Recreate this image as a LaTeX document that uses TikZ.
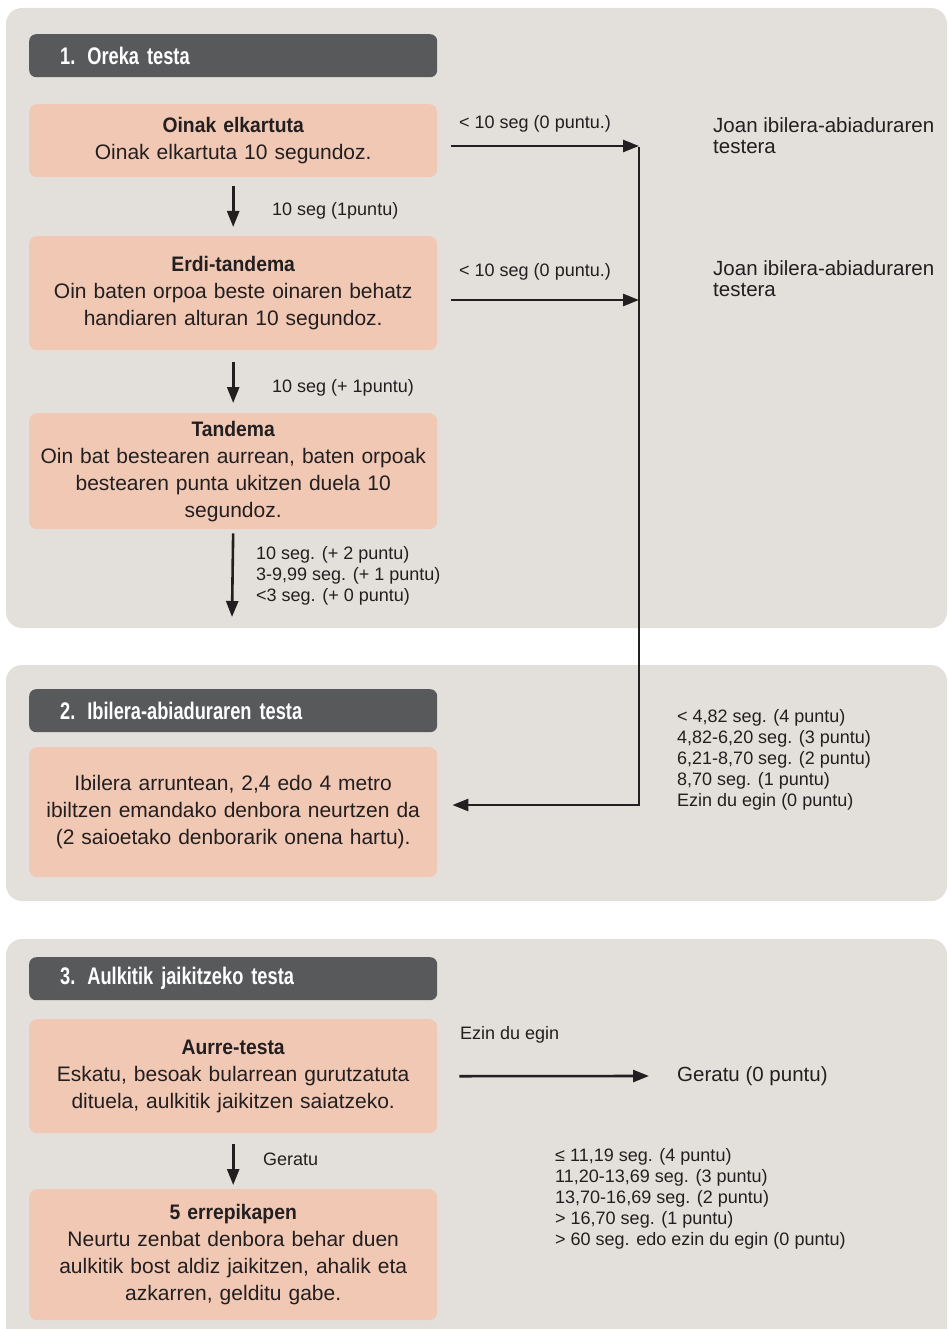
\documentclass[tikz,border=0pt]{standalone}
\usepackage{fontspec}
\setmainfont{Liberation Sans}
\newfontfamily\headfont{Liberation Sans}[FakeStretch=0.76]
\newfontfamily\titlefont{Liberation Sans}[FakeStretch=0.92]
\usetikzlibrary{arrows.meta}
\definecolor{panelbg}{HTML}{E3DFDA}
\definecolor{headgray}{HTML}{58595B}
\definecolor{peach}{HTML}{F0C8B4}
\definecolor{ink}{HTML}{231F20}
\tikzset{
  panel/.style={fill=panelbg, rounded corners=16pt},
  head/.style={fill=headgray, rounded corners=7pt, anchor=north west,
    text width=346pt, inner xsep=31pt, inner ysep=0pt, minimum height=43pt,
    align=left, text=white, font=\headfont\bfseries\fontsize{24}{28}\selectfont},
  stepbox/.style={fill=peach, rounded corners=8pt, anchor=north west,
    text width=400pt, inner xsep=4pt, inner ysep=0pt, align=center,
    text=ink, font=\fontsize{21}{27}\selectfont},
  lbl/.style={anchor=west, inner sep=0pt, text=ink, align=left,
    font=\fontsize{18}{21}\selectfont},
  note/.style={anchor=west, inner sep=0pt, text=ink, align=left,
    font=\fontsize{20.5}{21}\selectfont},
  arr/.style={draw=ink, line width=2.6pt,
    -{Triangle[length=16pt,width=12pt]}},
  wire/.style={draw=ink, line width=2.6pt},
}
\newcommand{\ttl}[1]{{\titlefont\bfseries #1}}
\begin{document}
\begin{tikzpicture}[x=1pt,y=-1pt]
\useasboundingbox (0,0) rectangle (948,1329);

% background panels
\fill[panel] (6,8) rectangle (947,628);
\fill[panel] (6,665) rectangle (947,901);
\fill[panel] (6,939) rectangle (947,1360);

% ---- 1. Oreka testa
\node[head] (h1) at (29,34) {1. Oreka testa};
\node[stepbox, minimum height=73pt] (b1) at (29,104)
  {\ttl{Oinak elkartuta}\\Oinak elkartuta 10 segundoz.};
\node[stepbox, minimum height=114pt] (b2) at (29,236)
  {\ttl{Erdi-tandema}\\Oin baten orpoa beste oinaren behatz\\handiaren alturan 10 segundoz.};
\node[stepbox, minimum height=116pt] (b3) at (29,413)
  {\ttl{Tandema}\\Oin bat bestearen aurrean, baten orpoak\\bestearen punta ukitzen duela 10\\segundoz.};

\node[lbl] (l1) at (272,211) {10 seg (1puntu)};
\node[lbl] (l2) at (272,388) {10 seg (+ 1puntu)};
\node[lbl] (l3) at (256,576) {10 seg. (+ 2 puntu)\\3-9,99 seg. (+ 1 puntu)\\<3 seg. (+ 0 puntu)};

\node[lbl] (f1) at (459,124) {< 10 seg (0 puntu.)};
\node[lbl] (f2) at (459,272) {< 10 seg (0 puntu.)};
\node[note] (n1) at (713,136) {Joan ibilera-abiaduraren\\testera};
\node[note] (n2) at (713,279) {Joan ibilera-abiaduraren\\testera};

\coordinate (j1) at (639,146);
\coordinate (j2) at (639,300);
\coordinate (j3) at (639,805);
\coordinate (e3) at (232,617);

\draw[arr, shorten <=9pt, shorten >=9pt] (b1.south) -- (b2.north);
\draw[arr, shorten <=12pt, shorten >=10pt] (b2.south) -- (b3.north);
\draw[arr, shorten <=4pt] (b3.south) -- (e3);
\draw[arr] ([xshift=14pt]b1.east |- j1) -- (j1);
\draw[arr] ([xshift=14pt]b2.east |- j2) -- (j2);

% ---- 2. Ibilera-abiaduraren testa
\node[head] (h2) at (29,689) {2. Ibilera-abiaduraren testa};
\node[stepbox, minimum height=130pt] (b4) at (29,747)
  {Ibilera arruntean, 2,4 edo 4 metro\\ibiltzen emandako denbora neurtzen da\\(2 saioetako denborarik onena hartu).};
\node[lbl] (l4) at (677,760) {< 4,82 seg. (4 puntu)\\4,82-6,20 seg. (3 puntu)\\6,21-8,70 seg. (2 puntu)\\8,70 seg. (1 puntu)\\Ezin du egin (0 puntu)};

\draw[wire] ([yshift=-1.3pt]j1) -- (j3);
\draw[arr] ([xshift=1.3pt]j3) -- ([xshift=15pt]b4.east |- j3);

% ---- 3. Aulkitik jaikitzeko testa
\node[head] (h3) at (29,957) {3. Aulkitik jaikitzeko testa};
\node[stepbox, minimum height=114pt] (b5) at (29,1019)
  {\ttl{Aurre-testa}\\Eskatu, besoak bularrean gurutzatuta\\dituela, aulkitik jaikitzen saiatzeko.};
\node[stepbox, minimum height=131pt] (b6) at (29,1189)
  {\ttl{5 errepikapen}\\Neurtu zenbat denbora behar duen\\aulkitik bost aldiz jaikitzen, ahalik eta\\azkarren, gelditu gabe.};

\node[lbl] (l5) at (460,1035) {Ezin du egin};
\node[note] (g0) at (677,1076) {Geratu (0 puntu)};
\node[lbl] (l6) at (263,1159) {Geratu};
\node[lbl] (l7) at (555,1199) {≤ 11,19 seg. (4 puntu)\\11,20-13,69 seg. (3 puntu)\\13,70-16,69 seg. (2 puntu)\\> 16,70 seg. (1 puntu)\\> 60 seg. edo ezin du egin (0 puntu)};

\draw[arr] ([xshift=22pt]b5.east) -- ([xshift=-28pt]g0.west);
\draw[arr, shorten <=11pt, shorten >=4pt] (b5.south) -- (b6.north);
\end{tikzpicture}
\end{document}
